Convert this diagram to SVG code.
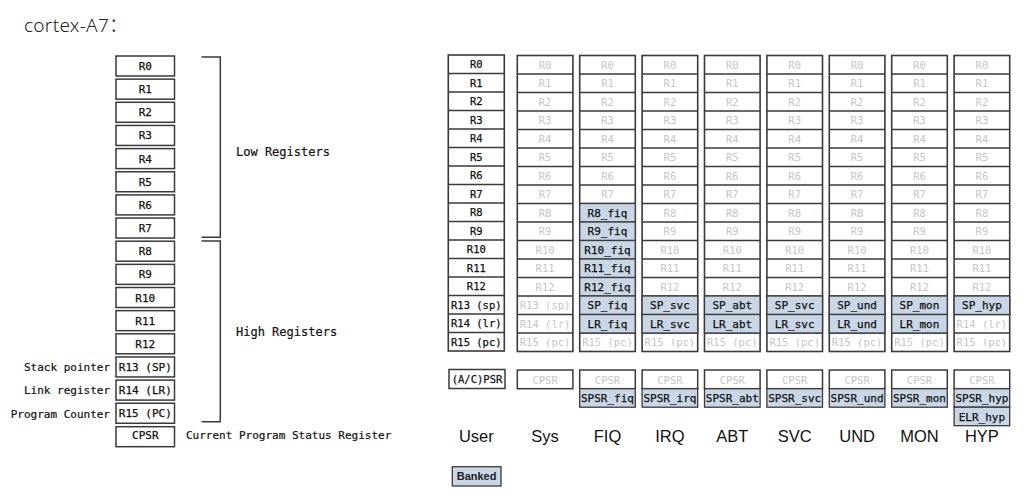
<svg xmlns="http://www.w3.org/2000/svg" width="1027" height="503" viewBox="0 0 1027 503">
<style>
text{font-family:"DejaVu Sans Mono","Liberation Mono",monospace;}
.bg{fill:#fff;}
.box{fill:#fff;stroke:#3a3a3a;stroke-width:1.5;}
.col{fill:#fff;stroke:#3a3a3a;stroke-width:1.6;}
.div{stroke:#3a3a3a;stroke-width:1.3;}
.blue{fill:#c9d6e5;stroke:#3a3a3a;stroke-width:1.3;}
.lt{font-size:11px;fill:#111;stroke:#111;stroke-width:0.25;text-anchor:middle;}
.lbl{font-size:11px;fill:#111;stroke:#111;stroke-width:0.2;text-anchor:end;}
.side{font-size:12px;fill:#111;stroke:#111;stroke-width:0.2;}
.ut{font-size:10.5px;fill:#111;stroke:#111;stroke-width:0.25;text-anchor:middle;}
.gt{font-size:10.5px;fill:#c6c6c6;text-anchor:middle;}
.bt{font-size:11px;fill:#111;stroke:#111;stroke-width:0.25;text-anchor:middle;}
.mode{font-family:"Liberation Sans",Arial,sans-serif;font-size:16.5px;fill:#111;text-anchor:middle;}
.brk{fill:none;stroke:#3a3a3a;stroke-width:1.5;}
</style>
<rect class="bg" x="0" y="0" width="1027" height="503"/>
<text x="24" y="32" style="font-family:'Noto Sans','Noto Sans CJK SC',sans-serif;font-size:19px;font-weight:300;letter-spacing:0.3px;fill:#222;">cortex-A7：</text>

<g id="left-registers">
<rect class="box" x="116" y="56" width="58.5" height="20"/><text class="lt" x="145.3" y="70">R0</text>
<rect class="box" x="116" y="79.15" width="58.5" height="20"/><text class="lt" x="145.3" y="93.15">R1</text>
<rect class="box" x="116" y="102.3" width="58.5" height="20"/><text class="lt" x="145.3" y="116.3">R2</text>
<rect class="box" x="116" y="125.45" width="58.5" height="20"/><text class="lt" x="145.3" y="139.45">R3</text>
<rect class="box" x="116" y="148.6" width="58.5" height="20"/><text class="lt" x="145.3" y="162.6">R4</text>
<rect class="box" x="116" y="171.75" width="58.5" height="20"/><text class="lt" x="145.3" y="185.75">R5</text>
<rect class="box" x="116" y="194.9" width="58.5" height="20"/><text class="lt" x="145.3" y="208.9">R6</text>
<rect class="box" x="116" y="218.05" width="58.5" height="20"/><text class="lt" x="145.3" y="232.05">R7</text>
<rect class="box" x="116" y="241.2" width="58.5" height="20"/><text class="lt" x="145.3" y="255.2">R8</text>
<rect class="box" x="116" y="264.35" width="58.5" height="20"/><text class="lt" x="145.3" y="278.35">R9</text>
<rect class="box" x="116" y="287.5" width="58.5" height="20"/><text class="lt" x="145.3" y="301.5">R10</text>
<rect class="box" x="116" y="310.65" width="58.5" height="20"/><text class="lt" x="145.3" y="324.65">R11</text>
<rect class="box" x="116" y="333.8" width="58.5" height="20"/><text class="lt" x="145.3" y="347.8">R12</text>
<rect class="box" x="116" y="356.95" width="58.5" height="20"/><text class="lt" x="145.3" y="370.95">R13 (SP)</text>
<rect class="box" x="116" y="380.1" width="58.5" height="20"/><text class="lt" x="145.3" y="394.1">R14 (LR)</text>
<rect class="box" x="116" y="403.25" width="58.5" height="20"/><text class="lt" x="145.3" y="417.25">R15 (PC)</text>
<rect class="box" x="116" y="426.7" width="58.5" height="20"/><text class="lt" x="145.3" y="439">CPSR</text>
<text class="lbl" x="110" y="371">Stack pointer</text>
<text class="lbl" x="110" y="394">Link register</text>
<text class="lbl" x="110" y="417.5">Program Counter</text>
<text x="186" y="439" style="font-size:11px;fill:#111;stroke:#111;stroke-width:0.2;">Current Program Status Register</text>
</g>

<g id="brackets">
<path class="brk" d="M201.5,57 H220.3 V237.3 H201.5"/>
<path class="brk" d="M201.5,241 H220.3 V421.7 H201.5"/>
<text class="side" x="236" y="156">Low Registers</text>
<text class="side" x="236" y="336">High Registers</text>
</g>

<g id="col-user">
<rect class="col" x="448.3" y="55" width="56" height="296"/>
<path class="div" d="M448.3,73.5H504.3M448.3,92H504.3M448.3,110.5H504.3M448.3,129H504.3M448.3,147.5H504.3M448.3,166H504.3M448.3,184.5H504.3M448.3,203H504.3M448.3,221.5H504.3M448.3,240H504.3M448.3,258.5H504.3M448.3,277H504.3M448.3,295.5H504.3M448.3,314H504.3M448.3,332.5H504.3"/>
<g class="ut">
<text x="476.3" y="68">R0</text><text x="476.3" y="86.5">R1</text><text x="476.3" y="105">R2</text><text x="476.3" y="123.5">R3</text><text x="476.3" y="142">R4</text><text x="476.3" y="160.5">R5</text><text x="476.3" y="179">R6</text><text x="476.3" y="197.5">R7</text><text x="476.3" y="216">R8</text><text x="476.3" y="234.5">R9</text><text x="476.3" y="253">R10</text><text x="476.3" y="271.5">R11</text><text x="476.3" y="290">R12</text><text x="476.3" y="308.5">R13 (sp)</text><text x="476.3" y="327">R14 (lr)</text><text x="476.3" y="345.5">R15 (pc)</text>
</g>
<rect class="box" x="449" y="369.5" width="56" height="19"/><text class="ut" x="477" y="383">(A/C)PSR</text>
<text class="mode" x="476.3" y="442">User</text>
</g>

<defs>
<g id="graycol">
<rect class="col" x="0" y="55.5" width="55.6" height="296"/>
<path class="div" d="M0,74H55.6M0,92.5H55.6M0,111H55.6M0,129.5H55.6M0,148H55.6M0,166.5H55.6M0,185H55.6M0,203.5H55.6M0,222H55.6M0,240.5H55.6M0,259H55.6M0,277.5H55.6M0,296H55.6M0,314.5H55.6M0,333H55.6"/>
<g class="gt">
<text x="27.8" y="68.5">R0</text><text x="27.8" y="87">R1</text><text x="27.8" y="105.5">R2</text><text x="27.8" y="124">R3</text><text x="27.8" y="142.5">R4</text><text x="27.8" y="161">R5</text><text x="27.8" y="179.5">R6</text><text x="27.8" y="198">R7</text><text x="27.8" y="216.5">R8</text><text x="27.8" y="235">R9</text><text x="27.8" y="253.5">R10</text><text x="27.8" y="272">R11</text><text x="27.8" y="290.5">R12</text><text x="27.8" y="309">R13 (sp)</text><text x="27.8" y="327.5">R14 (lr)</text><text x="27.8" y="346">R15 (pc)</text>
</g>
<rect class="box" x="0" y="370" width="55.6" height="18.7"/><text class="gt" x="27.8" y="383.5">CPSR</text>
</g>
</defs>

<g id="col-sys">
<use href="#graycol" x="517.3"/>
<text class="mode" x="545.1" y="442">Sys</text>
</g>

<g id="col-fiq">
<use href="#graycol" x="579.7"/>
<g transform="translate(579.7,0)">
<rect class="blue" x="0" y="203.5" width="55.6" height="18.5"/>
<rect class="blue" x="0" y="222" width="55.6" height="18.5"/>
<rect class="blue" x="0" y="240.5" width="55.6" height="18.5"/>
<rect class="blue" x="0" y="259" width="55.6" height="18.5"/>
<rect class="blue" x="0" y="277.5" width="55.6" height="18.5"/>
<rect class="blue" x="0" y="296" width="55.6" height="18.5"/>
<rect class="blue" x="0" y="314.5" width="55.6" height="18.5"/>
<rect class="blue" x="0" y="388.7" width="55.6" height="18.5"/>
<g class="bt">
<text x="27.8" y="216.5">R8_fiq</text><text x="27.8" y="235">R9_fiq</text><text x="27.8" y="253.5">R10_fiq</text><text x="27.8" y="272">R11_fiq</text><text x="27.8" y="290.5">R12_fiq</text><text x="27.8" y="309">SP_fiq</text><text x="27.8" y="327.5">LR_fiq</text><text x="27.8" y="402">SPSR_fiq</text>
</g>
</g>
<text class="mode" x="607.5" y="442">FIQ</text>
</g>

<g id="col-irq">
<use href="#graycol" x="642.1"/>
<g transform="translate(642.1,0)">
<rect class="blue" x="0" y="296" width="55.6" height="18.5"/>
<rect class="blue" x="0" y="314.5" width="55.6" height="18.5"/>
<rect class="blue" x="0" y="388.7" width="55.6" height="18.5"/>
<g class="bt"><text x="27.8" y="309">SP_svc</text><text x="27.8" y="327.5">LR_svc</text><text x="27.8" y="402">SPSR_irq</text></g>
</g>
<text class="mode" x="669.9" y="442">IRQ</text>
</g>

<g id="col-abt">
<use href="#graycol" x="704.5"/>
<g transform="translate(704.5,0)">
<rect class="blue" x="0" y="296" width="55.6" height="18.5"/>
<rect class="blue" x="0" y="314.5" width="55.6" height="18.5"/>
<rect class="blue" x="0" y="388.7" width="55.6" height="18.5"/>
<g class="bt"><text x="27.8" y="309">SP_abt</text><text x="27.8" y="327.5">LR_abt</text><text x="27.8" y="402">SPSR_abt</text></g>
</g>
<text class="mode" x="732.3" y="442">ABT</text>
</g>

<g id="col-svc">
<use href="#graycol" x="766.9"/>
<g transform="translate(766.9,0)">
<rect class="blue" x="0" y="296" width="55.6" height="18.5"/>
<rect class="blue" x="0" y="314.5" width="55.6" height="18.5"/>
<rect class="blue" x="0" y="388.7" width="55.6" height="18.5"/>
<g class="bt"><text x="27.8" y="309">SP_svc</text><text x="27.8" y="327.5">LR_svc</text><text x="27.8" y="402">SPSR_svc</text></g>
</g>
<text class="mode" x="794.7" y="442">SVC</text>
</g>

<g id="col-und">
<use href="#graycol" x="829.3"/>
<g transform="translate(829.3,0)">
<rect class="blue" x="0" y="296" width="55.6" height="18.5"/>
<rect class="blue" x="0" y="314.5" width="55.6" height="18.5"/>
<rect class="blue" x="0" y="388.7" width="55.6" height="18.5"/>
<g class="bt"><text x="27.8" y="309">SP_und</text><text x="27.8" y="327.5">LR_und</text><text x="27.8" y="402">SPSR_und</text></g>
</g>
<text class="mode" x="857.1" y="442">UND</text>
</g>

<g id="col-mon">
<use href="#graycol" x="891.7"/>
<g transform="translate(891.7,0)">
<rect class="blue" x="0" y="296" width="55.6" height="18.5"/>
<rect class="blue" x="0" y="314.5" width="55.6" height="18.5"/>
<rect class="blue" x="0" y="388.7" width="55.6" height="18.5"/>
<g class="bt"><text x="27.8" y="309">SP_mon</text><text x="27.8" y="327.5">LR_mon</text><text x="27.8" y="402">SPSR_mon</text></g>
</g>
<text class="mode" x="919.5" y="442">MON</text>
</g>

<g id="col-hyp">
<use href="#graycol" x="954.1"/>
<g transform="translate(954.1,0)">
<rect class="blue" x="0" y="296" width="55.6" height="18.5"/>
<rect class="blue" x="0" y="388.7" width="55.6" height="18.5"/>
<rect class="blue" x="0" y="407.2" width="55.6" height="18.5"/>
<g class="bt"><text x="27.8" y="309">SP_hyp</text><text x="27.8" y="402">SPSR_hyp</text><text x="27.8" y="420.5">ELR_hyp</text></g>
</g>
<text class="mode" x="981.9" y="442">HYP</text>
</g>

<g id="legend">
<rect class="blue" x="452.3" y="466.7" width="48.7" height="19.3"/>
<text x="476.6" y="480.3" style="font-family:'Liberation Sans',Arial,sans-serif;font-size:11px;font-weight:bold;fill:#222;text-anchor:middle;">Banked</text>
</g>
</svg>
